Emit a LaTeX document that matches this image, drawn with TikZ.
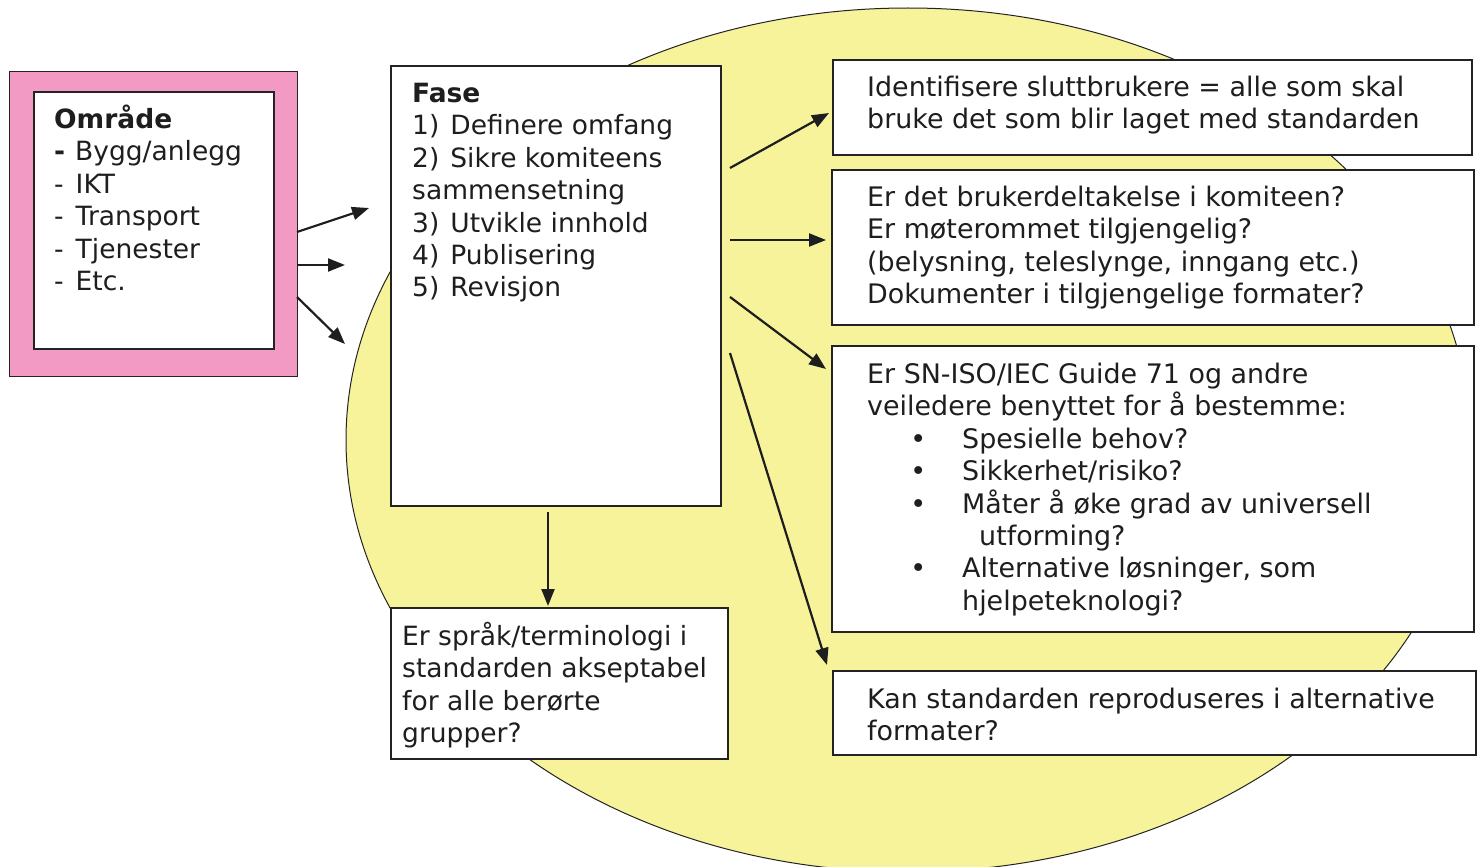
\documentclass[tikz,border=0pt]{standalone}
\usepackage{fontspec}
\setmainfont{DejaVu Sans}
\usetikzlibrary{arrows.meta}
\definecolor{pinkc}{RGB}{242,154,195}
\definecolor{yel}{RGB}{247,243,155}
\definecolor{edge}{RGB}{35,35,35}
\definecolor{ink}{RGB}{30,30,30}
\newcommand{\tfs}{\fontsize{26.5pt}{32.45pt}\selectfont}
\newcommand{\rfs}{\fontsize{26.9pt}{32.45pt}\selectfont}
\newcommand{\tst}{\rule{0pt}{24pt}}
\newcommand{\dsh}{-\hspace*{12pt}}
\newcommand{\nsp}{\hspace*{11pt}}
\begin{document}
\begin{tikzpicture}[x=1pt,y=-1pt,
  box/.style={draw=edge,line width=1.6pt,fill=white,anchor=north west,inner sep=0},
  txt/.style={anchor=north west,inner sep=0,align=left,font=\tfs,text=ink},
  rtxt/.style={txt,font=\rfs},
  arr/.style={line width=2.2pt,draw=ink,-{Triangle[length=17pt,width=13pt]}}]
\useasboundingbox (0,0) rectangle (1478,867);
\draw[fill=yel,draw=edge,line width=1pt] (908,440) ellipse [x radius=562, y radius=432];
% left area box
\node[box,fill=pinkc,line width=1.2pt,minimum width=288pt,minimum height=305pt] (pinkbox) at (9,71) {};
\node[box,minimum width=240pt,minimum height=257pt] (omrbox) at (33,91) {};
\node[txt] (omrtxt) at (54,104) {\tst\textbf{Område}\\\textbf{-}\hspace*{10pt}Bygg/anlegg\\\dsh IKT\\\dsh Transport\\\dsh Tjenester\\\dsh Etc.};
% phase box
\node[box,minimum width=330pt,minimum height=440pt] (fase) at (390,65) {};
\node[txt] (fasetxt) at (412,78) {\tst\textbf{Fase}\\1)\nsp Definere omfang\\2)\nsp Sikre komiteens\\sammensetning\\3)\nsp Utvikle innhold\\4)\nsp Publisering\\5)\nsp Revisjon};
% bottom box
\node[box,minimum width=337pt,minimum height=151pt] (sprak) at (390,607) {};
\node[txt] (spraktxt) at (402,621) {\tst Er språk/terminologi i\\standarden akseptabel\\for alle berørte\\grupper?};
% right boxes
\node[box,minimum width=639pt,minimum height=95pt] (b1) at (832,59) {};
\node[rtxt] (b1txt) at (867,72) {\tst Identifisere sluttbrukere = alle som skal\\bruke det som blir laget med standarden};
\node[box,minimum width=642pt,minimum height=155pt] (b2) at (831,169) {};
\node[rtxt] (b2txt) at (867,182) {\tst Er det brukerdeltakelse i komiteen?\\Er møterommet tilgjengelig?\\(belysning, teleslynge, inngang etc.)\\Dokumenter i tilgjengelige formater?};
\node[box,minimum width=642pt,minimum height=286pt] (b3) at (831,345) {};
\node[rtxt] (b3txt) at (867,359) {\tst Er SN-ISO/IEC Guide 71 og andre\\veiledere benyttet for å bestemme:\\
\hspace*{51pt}\makebox[0pt]{\textbullet}\hspace*{44pt}Spesielle behov?\\
\hspace*{51pt}\makebox[0pt]{\textbullet}\hspace*{44pt}Sikkerhet/risiko?\\
\hspace*{51pt}\makebox[0pt]{\textbullet}\hspace*{44pt}Måter å øke grad av universell\\
\hspace*{112pt}utforming?\\
\hspace*{51pt}\makebox[0pt]{\textbullet}\hspace*{44pt}Alternative løsninger, som\\
\hspace*{95pt}hjelpeteknologi?};
\node[box,minimum width=643pt,minimum height=84pt] (b4) at (832,670) {};
\node[rtxt] (b4txt) at (867,684) {\tst Kan standarden reproduseres i alternative\\formater?};
% arrow end points
\coordinate (p1s) at (297,232); \coordinate (p1e) at (369,208);
\coordinate (p2s) at (297,265); \coordinate (p2e) at (345,265);
\coordinate (p3s) at (297,297); \coordinate (p3e) at (345,344);
\coordinate (f1s) at (730,168); \coordinate (f1e) at (829,113);
\coordinate (f2s) at (730,240); \coordinate (f2e) at (826,240);
\coordinate (f3s) at (730,297); \coordinate (f3e) at (826,369);
\coordinate (f4s) at (730,353); \coordinate (f4e) at (827,665);
\coordinate (ds) at (548,512); \coordinate (de) at (548,606);
\draw[arr] (p1s) -- (p1e);
\draw[arr] (p2s) -- (p2e);
\draw[arr] (p3s) -- (p3e);
\draw[arr] (f1s) -- (f1e);
\draw[arr] (f2s) -- (f2e);
\draw[arr] (f3s) -- (f3e);
\draw[arr] (f4s) -- (f4e);
\draw[arr] (ds) -- (de);
\end{tikzpicture}
\end{document}
